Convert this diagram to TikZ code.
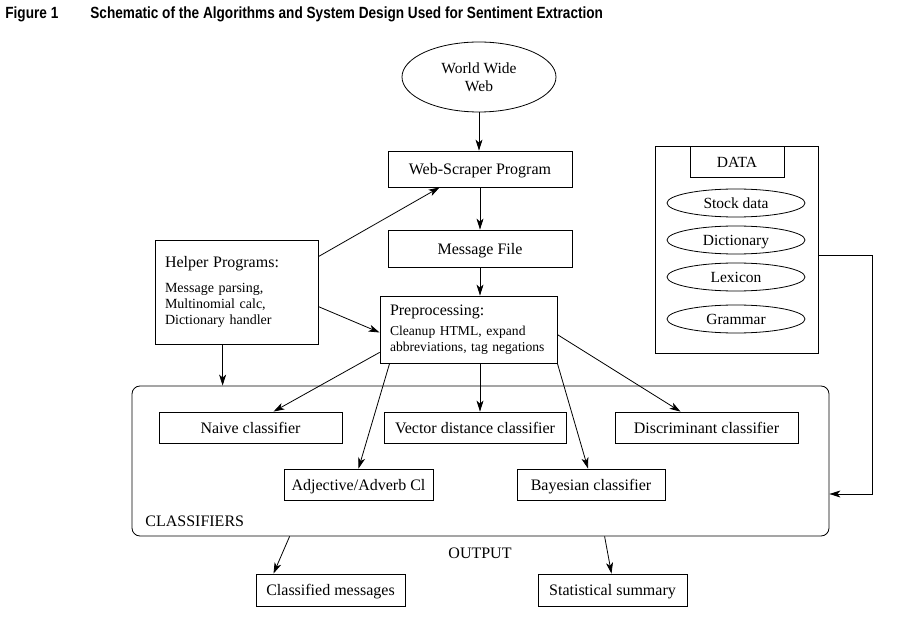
\documentclass[tikz,border=0pt]{standalone}
\usepackage{fontspec}
\setmainfont{Liberation Serif}
\newfontfamily\titlefont[FakeStretch=0.84]{Liberation Sans}
\usetikzlibrary{arrows.meta,shapes.geometric,calc}
\begin{document}
\begin{tikzpicture}[x=1pt,y=-1pt,line width=0.8pt,
  box/.style={draw,rectangle,inner sep=0pt,font=\fontsize{16}{19}\selectfont},
  sbox/.style={box,text height=11.5pt,text depth=0pt},
  oval/.style={draw,ellipse,inner sep=0pt,font=\fontsize{15.5}{18}\selectfont},
  soval/.style={oval,text height=11pt,text depth=0pt},
  lbl/.style={inner sep=0pt,font=\fontsize{16}{19}\selectfont},
  ttl/.style={inner sep=0pt,anchor=west,font=\titlefont\bfseries\fontsize{16.2}{18}\selectfont},
  arr/.style={-{Stealth[length=11pt,width=7pt,inset=3pt]}}]
\useasboundingbox (0,0) rectangle (905,617);
% title
\node[ttl] (fig) at (5,14) {Figure 1};
\node[ttl] (title) at (90,14) {Schematic of the Algorithms and System Design Used for Sentiment Extraction};
% top chain
\node[oval,minimum width=154pt,minimum height=70pt,align=center] (www) at (479,77) {World Wide\\Web};
\node[sbox,minimum width=184pt,minimum height=36pt] (scraper) at (480,169) {Web-Scraper Program};
\node[sbox,minimum width=184pt,minimum height=37pt] (msg) at (480,248.5) {Message File};
\node[box,minimum width=177pt,minimum height=67pt,text width=167pt,align=left,font=\fontsize{13.6}{16}\selectfont] (pre) at (468.5,329.5)
  {\hspace*{5pt}{\fontsize{16}{19}\selectfont Preprocessing:}\\[4pt]\hspace*{5pt}Cleanup HTML, expand\\\hspace*{5pt}abbreviations, tag negations};
\node[box,minimum width=163pt,minimum height=104pt,text width=143pt,align=left,font=\fontsize{14}{16}\selectfont] (helper) at (236.5,292)
  {{\fontsize{16}{19}\selectfont Helper Programs:}\\[9pt]Message parsing,\\Multinomial calc,\\Dictionary handler};
% data
\node[draw,rectangle,minimum width=163pt,minimum height=207pt] (data) at (736.5,249.5) {};
\node[sbox,minimum width=94pt,minimum height=31pt,font=\fontsize{15.5}{18}\selectfont] (datat) at (737,161.5) {DATA};
\node[soval,minimum width=138pt,minimum height=28pt] (stock) at (736,203) {Stock data};
\node[soval,minimum width=138pt,minimum height=28pt] (dict) at (736,240) {Dictionary};
\node[soval,minimum width=138pt,minimum height=28pt] (lex) at (736,277) {Lexicon};
\node[soval,minimum width=138pt,minimum height=28pt] (gram) at (736,319) {Grammar};
% classifiers
\node[draw,rectangle,rounded corners=8pt,minimum width=697pt,minimum height=150pt] (cls) at (480.5,461) {};
\node[sbox,minimum width=183pt,minimum height=31pt] (naive) at (250.5,427.5) {Naive classifier};
\node[sbox,minimum width=182pt,minimum height=31pt] (vec) at (475,427.5) {Vector distance classifier};
\node[sbox,minimum width=183pt,minimum height=31pt] (disc) at (706.5,427.5) {Discriminant classifier};
\node[sbox,minimum width=149pt,minimum height=31pt] (adj) at (358.5,484.5) {Adjective/Adverb Cl};
\node[sbox,minimum width=148pt,minimum height=31pt] (bay) at (591,484.5) {Bayesian classifier};
\node[lbl,anchor=west] (clsl) at (145,521) {CLASSIFIERS};
\node[lbl] (out) at (480,553) {OUTPUT};
\node[sbox,minimum width=149pt,minimum height=32pt] (cmsg) at (330.5,590) {Classified messages};
\node[sbox,minimum width=149pt,minimum height=32pt] (stat) at (612.5,590) {Statistical summary};
% anchor points on node borders
\coordinate (hb) at ($(helper.south west)+(68,0)$);
\coordinate (dr) at ($(data.north east)+(0,110)$);
\coordinate (ce) at ($(cls.east)+(0,33)$);
\coordinate (vt) at ($(vec.north)+(5,0)$);
% connectors
\draw[arr] (www.south) -- (www.south |- scraper.north);
\draw[arr] (scraper.south) -- (msg.north);
\draw[arr] (msg.south) -- (msg.south |- pre.north);
\draw[arr] ($(helper.north east)+(0,17)$) -- ($(scraper.south west)+(52,0)$);
\draw[arr] ($(helper.north east)+(0,67)$) -- ($(pre.west)+(0,3)$);
\draw[arr] (hb) -- (hb |- cls.north);
\draw[arr] ($(pre.south west)+(0,-11)$) -- ($(naive.north)+(23,0)$);
\draw[arr] ($(pre.south west)+(10,0)$) -- (adj.north);
\draw[arr] (pre.south -| vt) -- (vt);
\draw[arr] (pre.south east) -- ($(bay.north)+(-3,0)$);
\draw[arr] ($(pre.north east)+(0,39)$) -- ($(disc.north)+(-26,0)$);
\draw[arr] (dr) -- ++(54,0) |- (ce);
\draw[arr] ($(cls.south west)+(158,0)$) -- ($(cmsg.north)+(-57,0)$);
\draw[arr] ($(cls.south west)+(473,0)$) -- ($(stat.north)+(-1,0)$);
\end{tikzpicture}
\end{document}
